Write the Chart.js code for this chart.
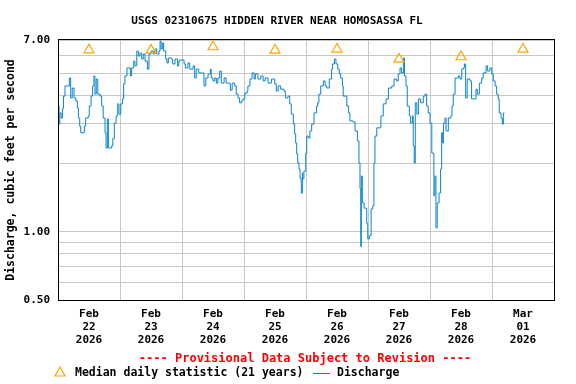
<!DOCTYPE html>
<html>
<head>
<meta charset="utf-8">
<script src="https://cdn.jsdelivr.net/npm/chart.js@4.4.1/dist/chart.umd.min.js"></script>
<style>
html, body { margin: 0; padding: 0; background: #fff; }
</style>
</head>
<body>
<canvas id="flowChart" width="576" height="384"></canvas>
<script>
const hours = [
  0.1, 0.4, 0.7, 1.2, 1.7, 2.1, 2.7, 3.8, 4.4, 4.9, 5.5, 6.2, 6.9, 7.5, 7.9, 8.4, 8.8, 10.2, 10.7, 11.7,
  12.1, 12.8, 13.4, 13.9, 14.3, 14.8, 15.4, 16.3, 16.9, 17.5, 18.2, 18.6, 19.1, 19.5, 20.8, 21.2, 21.8, 22.5, 23.1, 23.6,
  24.3, 25.0, 25.4, 25.9, 26.7, 28.0, 28.5, 29.3, 29.8, 30.5, 31.1, 31.7, 32.4, 33.0, 33.7, 34.6, 35.2, 36.0, 36.9, 37.5,
  38.2, 39.1, 39.5, 39.9, 40.4, 40.9, 41.7, 42.2, 42.7, 44.0, 44.4, 45.3, 46.3, 46.8,
  47.1, 48.8, 49.3, 50.3, 51.0, 52.3, 52.9, 53.5, 54.5, 56.1, 56.5, 57.2, 58.1, 59.0, 59.3, 60.0, 60.7, 61.3, 61.9, 62.6,
  63.2, 64.3, 65.1, 66.5, 66.7, 67.4, 68.4, 69.0, 69.7, 70.3, 71.0, 71.6, 72.3, 73.2, 73.5, 74.3, 75.1, 75.9, 76.4, 77.4,
  78.5, 79.4, 80.2, 81.3, 82.6, 83.9, 84.5, 85.2, 86.2, 87.5, 88.0, 89.0, 89.7, 90.3, 91.1, 91.6, 92.0, 92.4, 92.8, 93.3,
  93.7, 94.1, 94.2, 94.6,
  94.7, 95.2, 95.9, 96.3, 96.9, 97.5, 98.2, 99.1, 100.1, 100.5, 101.0, 101.7, 102.7, 103.4, 104.0, 105.0, 105.9, 106.3, 107.0, 107.6,
  108.3, 108.9, 109.4, 110.1, 110.4, 111.1, 111.8, 112.5, 113.0, 114.1, 115.0, 115.9, 116.5, 116.9, 117.2, 117.4, 117.8, 118.5, 119.5, 119.9,
  120.5, 121.2, 121.8, 122.3, 122.7, 123.4, 124.6, 125.0, 125.9, 127.0, 127.9, 129.2, 130.1, 131.1, 131.7, 132.4, 133.0, 133.7, 134.1, 134.7,
  135.2, 136.0, 136.5, 137.2, 137.5, 137.9, 138.3, 138.9, 139.5, 140.4, 141.4,
  142.1, 142.7, 143.3, 144.0, 144.7, 145.3, 145.5, 145.9, 146.3, 146.8, 147.5, 148.1, 148.5, 148.9, 149.2, 149.8, 150.2, 151.1, 152.1, 152.5,
  153.0, 153.7, 155.0, 155.6, 156.3, 156.9, 157.3, 157.8, 158.4, 159.5, 160.1, 161.4, 161.8, 162.3, 163.1, 164.0, 164.6, 165.7, 166.3, 167.2,
  167.9, 168.5, 169.2, 169.8, 170.4, 170.8, 171.5, 172.0, 172.4, 172.8
];
const discharge = [
  3.58, 2.98, 3.34, 3.17, 3.48, 3.96, 4.39, 4.39, 4.76, 3.89, 4.30, 3.89, 3.77, 3.51, 3.17, 2.92, 2.73, 2.92, 3.17, 3.24,
  3.58, 3.96, 4.39, 4.86, 4.04, 4.71, 4.04, 3.96, 3.58, 3.17, 2.73, 2.34, 3.14, 2.34, 2.39, 2.57, 3.01, 3.24, 3.66, 3.30,
  3.66, 3.85, 4.48, 4.86, 5.27, 4.86, 5.27, 5.65, 5.38, 6.26, 5.95, 6.13, 5.77, 6.07, 5.65, 5.21, 6.07, 6.26, 6.07, 6.39,
  6.07, 6.26, 6.93, 6.39, 6.79, 6.26, 5.77, 5.54, 5.83, 5.77, 5.49, 5.77, 5.38, 5.65,
  5.71, 5.49, 5.27, 5.54, 5.21, 5.38, 4.76, 5.21, 5.01, 5.01, 4.39, 4.76, 4.96, 5.21, 4.76, 4.62, 4.76, 4.52, 4.76, 5.11,
  4.52, 4.76, 4.52, 4.48, 4.21, 4.52, 4.39, 4.04, 3.89, 3.70, 3.77, 3.85, 4.08, 4.17, 4.39, 4.71, 5.01, 4.71, 4.96, 4.71,
  4.86, 4.62, 4.76, 4.52, 4.71, 4.48, 4.17, 4.39, 4.25, 4.17, 3.89, 3.96, 3.66, 3.30, 2.98, 2.70, 2.46, 2.20, 2.01, 1.89,
  1.72, 1.64, 1.48, 1.82,
  1.71, 1.85, 2.22, 2.64, 2.59, 2.78, 2.98, 3.34, 3.58, 3.70, 4.04, 4.39, 4.62, 4.39, 4.30, 4.71, 5.21, 5.49, 5.77, 5.49,
  5.21, 4.96, 4.76, 4.39, 3.96, 3.96, 3.58, 3.34, 3.08, 3.05, 2.78, 2.51, 2.01, 1.55, 0.86, 1.76, 1.34, 1.27, 1.09, 0.93,
  0.96, 1.26, 1.30, 2.01, 2.64, 2.87, 2.87, 3.24, 3.66, 3.85, 4.30, 4.39, 4.71, 4.62, 4.96, 5.27, 5.01, 5.83, 4.86, 4.39,
  3.58, 3.24, 3.01, 3.24, 2.39, 2.01, 3.70, 3.30, 3.85, 3.70, 3.96,
  4.04, 3.58, 3.34, 3.01, 2.22, 2.22, 1.44, 1.76, 1.04, 1.34, 1.48, 1.89, 2.73, 2.46, 3.01, 3.17, 2.78, 3.17, 3.24, 3.58,
  4.04, 4.76, 4.86, 4.71, 5.21, 5.27, 5.49, 3.89, 4.71, 4.62, 3.85, 3.85, 4.25, 4.04, 4.52, 4.76, 5.01, 5.38, 5.11, 5.27,
  4.96, 4.62, 4.39, 4.04, 3.85, 3.34, 3.17, 2.98, 3.34, 3.34
];

// median daily statistic (21 years), one per day at noon
const medianHours = [12, 36, 60, 84, 108, 132, 156, 180];
const medianFlow = [6.33, 6.31, 6.53, 6.31, 6.38, 5.76, 5.90, 6.38];

// x axis: day boundaries and labelled noons
const dayLines = [0, 24, 48, 72, 96, 120, 144, 168, 192];
const labelHours = [12, 36, 60, 84, 108, 132, 156, 180];
const dayLabels = [
  ['Feb', '22', '2026'], ['Feb', '23', '2026'], ['Feb', '24', '2026'], ['Feb', '25', '2026'],
  ['Feb', '26', '2026'], ['Feb', '27', '2026'], ['Feb', '28', '2026'], ['Mar', '01', '2026']
];

// y axis (log)
const yGridValues = [0.5, 0.6, 0.7, 0.8, 0.9, 1, 2, 3, 4, 5, 6, 7];
const yLabelValues = [0.5, 1, 7];

const BLUE = '#0a84cc';
const ORANGE = '#ffa500';
const GRID = '#c8c8c8';
const FONT = '"DejaVu Sans Mono", monospace';

Chart.defaults.font.family = FONT;
Chart.defaults.font.size = 11;
Chart.defaults.font.weight = 'bold';
Chart.defaults.color = '#000';

const flowPoints = hours.map((h, i) => ({ x: h, y: discharge[i] }));
const medianPoints = medianHours.map((h, i) => ({ x: h, y: medianFlow[i] }));

// frame, title, provisional note and legend
const extras = {
  id: 'extras',
  afterDraw(chart) {
    const ctx = chart.ctx;
    const a = chart.chartArea;
    ctx.save();
    ctx.strokeStyle = '#000';
    ctx.lineWidth = 1;
    ctx.strokeRect(Math.round(a.left) + 0.5, Math.round(a.top) - 0.5,
      Math.round(a.right) - Math.round(a.left), Math.round(a.bottom) - Math.round(a.top) + 1);

    ctx.font = 'bold 11px ' + FONT;
    ctx.textBaseline = 'middle';
    ctx.textAlign = 'center';
    ctx.fillStyle = '#000';
    ctx.fillText('USGS 02310675 HIDDEN RIVER NEAR HOMOSASSA FL', 277, 21);

    ctx.font = 'bold 12px ' + FONT;
    ctx.fillStyle = '#ff0000';
    ctx.fillText('---- Provisional Data Subject to Revision ----', 305, 359);

    // legend
    ctx.strokeStyle = ORANGE;
    ctx.lineWidth = 1.2;
    ctx.beginPath();
    ctx.moveTo(60, 367);
    ctx.lineTo(65, 376);
    ctx.lineTo(55, 376);
    ctx.closePath();
    ctx.stroke();

    ctx.font = 'bold 11.5px ' + FONT;
    ctx.textAlign = 'left';
    ctx.fillStyle = '#000';
    ctx.fillText('Median daily statistic (21 years)', 75, 373);

    ctx.strokeStyle = BLUE;
    ctx.lineWidth = 1;
    ctx.beginPath();
    ctx.moveTo(313, 373.5);
    ctx.lineTo(330, 373.5);
    ctx.stroke();
    ctx.fillText('Discharge', 337, 373);
    ctx.restore();
  }
};

new Chart(document.getElementById('flowChart'), {
  type: 'line',
  data: {
    datasets: [
      {
        label: 'Median daily statistic (21 years)',
        data: medianPoints,
        showLine: false,
        pointStyle: 'triangle',
        pointRadius: 5.8,
        pointBorderWidth: 1.2,
        borderColor: ORANGE,
        backgroundColor: 'rgba(0,0,0,0)',
        order: 1
      },
      {
        label: 'Discharge',
        data: flowPoints,
        borderColor: BLUE,
        borderWidth: 1,
        pointRadius: 0,
        stepped: true,
        fill: false,
        order: 2
      }
    ]
  },
  options: {
    responsive: false,
    animation: false,
    layout: { padding: { top: 40, right: 22, bottom: 0, left: 0 } },
    plugins: { legend: { display: false }, tooltip: { enabled: false } },
    scales: {
      x: {
        type: 'linear',
        min: 0,
        max: 192,
        afterBuildTicks: s => { s.ticks = dayLines.concat(labelHours).sort((a, b) => a - b).map(v => ({ value: v })); },
        afterFit: s => { s.height = 84; },
        grid: {
          color: c => (c.tick && c.tick.value % 24 === 0) ? GRID : 'rgba(0,0,0,0)',
          drawTicks: false,
          lineWidth: 1
        },
        border: { display: true, color: '#000' },
        ticks: {
          autoSkip: false,
          maxRotation: 0,
          padding: 8,
          font: { lineHeight: 13 / 11 },
          callback: v => {
            const i = labelHours.indexOf(v);
            return i < 0 ? '' : dayLabels[i];
          }
        }
      },
      y: {
        type: 'logarithmic',
        min: 0.5,
        max: 7,
        afterBuildTicks: s => { s.ticks = yGridValues.map(v => ({ value: v })); },
        afterFit: s => { s.width = 58; },
        grid: { color: GRID, drawTicks: false, lineWidth: 1 },
        border: { display: true, color: '#000' },
        ticks: {
          autoSkip: false,
          padding: 8,
          callback: v => yLabelValues.includes(v) ? v.toFixed(2) : ''
        },
        title: {
          display: true,
          text: 'Discharge, cubic feet per second',
          font: { size: 11.5 },
          padding: { top: 4, bottom: 0 }
        }
      }
    }
  },
  plugins: [extras]
});
</script>
</body>
</html>
